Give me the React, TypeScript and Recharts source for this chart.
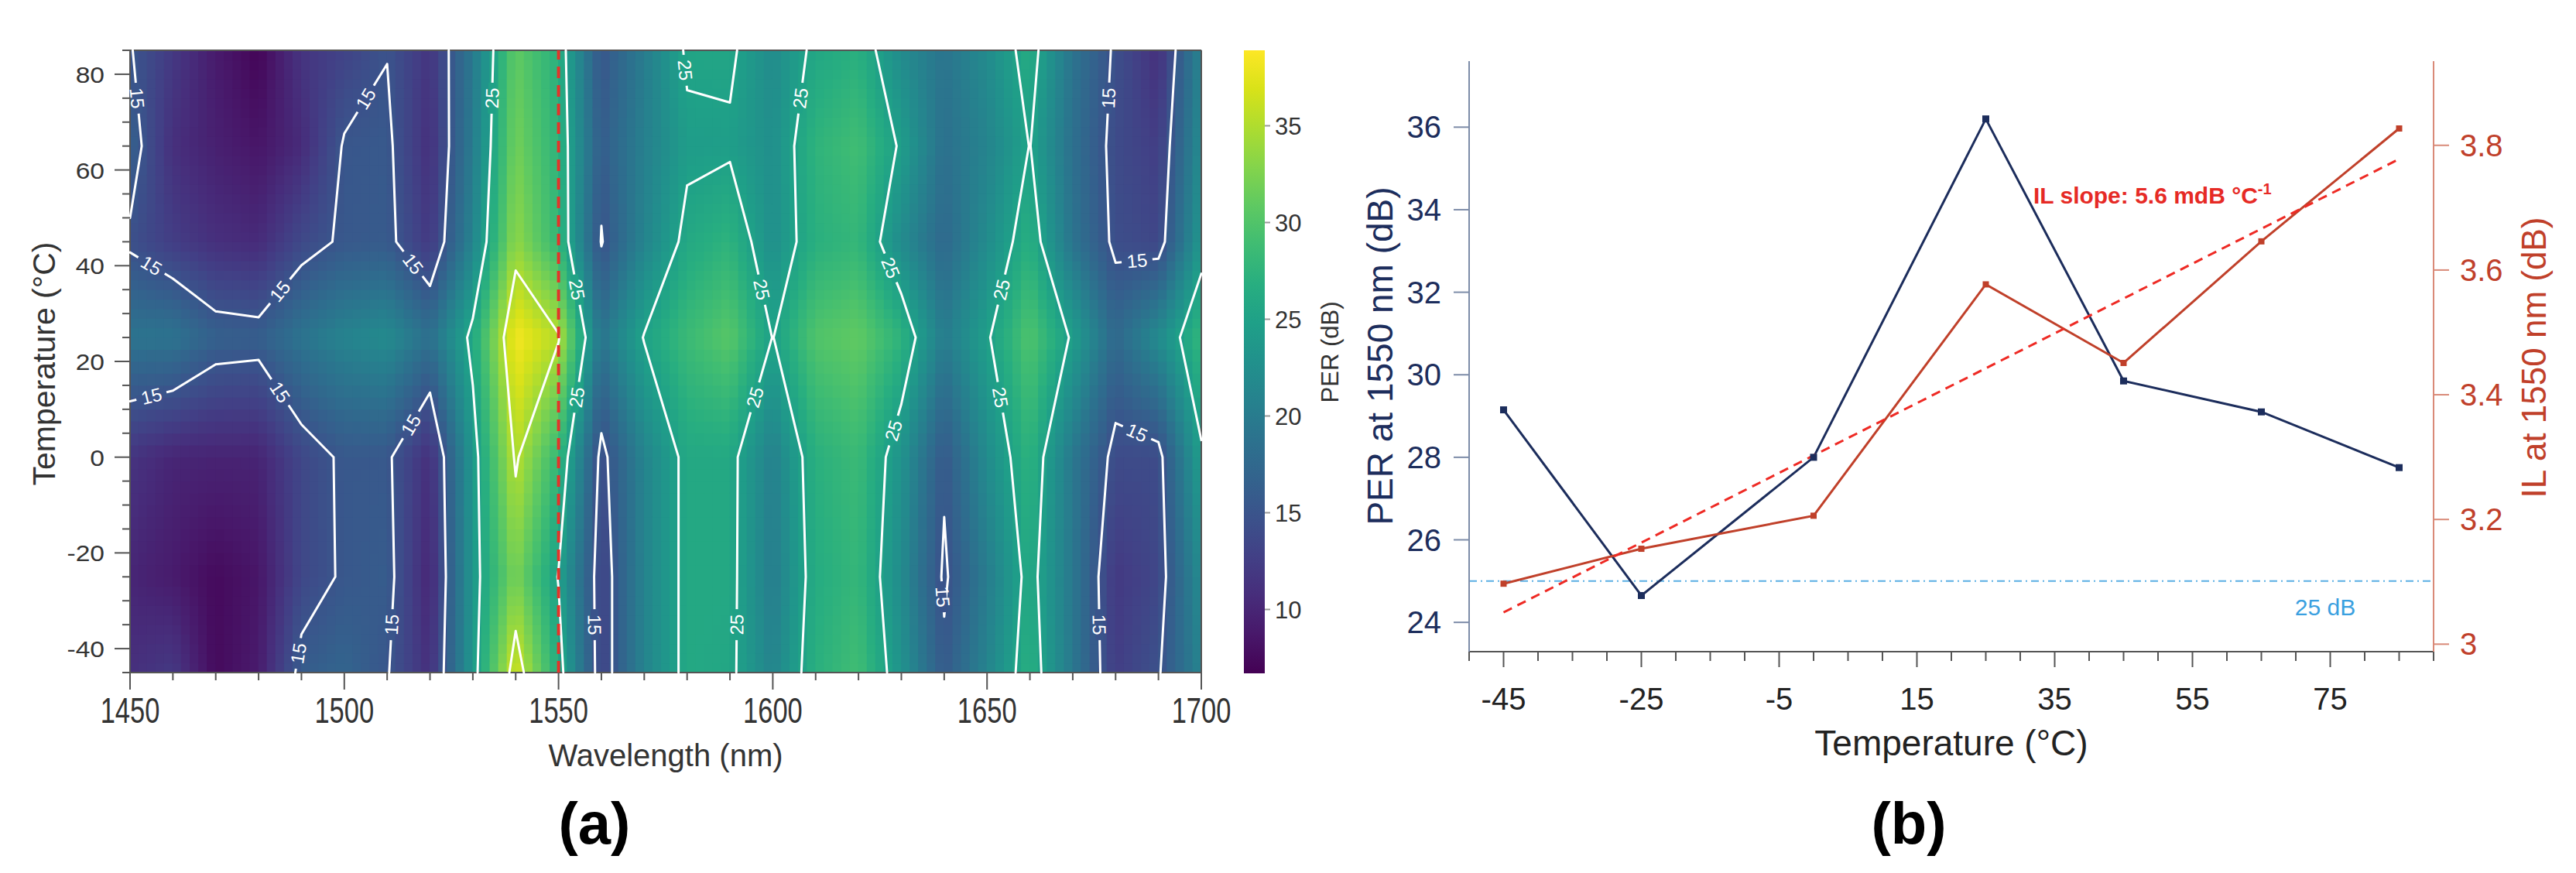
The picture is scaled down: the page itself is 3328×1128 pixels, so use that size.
import React from 'react';
import {
  ComposedChart,
  Scatter,
  Line,
  XAxis,
  YAxis,
  ReferenceLine,
  ReferenceArea,
} from 'recharts';

const FONT = '"Liberation Sans", Arial, sans-serif';

// ---------- (a) PER map: measured grid, one row per temperature ----------
const wavelengths = [1450, 1460, 1470, 1480, 1490, 1500, 1510, 1520, 1530, 1540, 1550, 1560, 1570, 1580, 1590, 1600, 1610, 1620, 1630, 1640, 1650, 1660, 1670, 1680, 1690, 1700];
const perT85 = [15.2, 12, 9, 7, 11.5, 13, 14.9, 11.5, 19.5, 31, 27, 15.2, 20, 25.5, 25.6, 22, 25.8, 27, 22, 19, 22, 26.5, 19, 14.5, 11, 21];
const perT65 = [16.5, 11, 9.5, 8.5, 10.5, 15.3, 15.6, 11, 20, 32, 27.5, 16, 20.5, 24.3, 24.5, 22.5, 27.5, 29, 24.5, 18.5, 21, 25.1, 18.5, 14, 12.5, 22];
const perT45 = [14.5, 12.5, 11, 10.5, 13.7, 15.5, 15.8, 12, 21, 33.5, 28, 14.8, 21, 26, 27.5, 22.5, 27, 28, 22, 17.5, 22, 27, 19, 14.3, 13.5, 23.5];
const perT25 = [19, 19, 16.5, 16.2, 19, 21, 22, 18.5, 26, 38.5, 35.3, 19, 25.2, 28.5, 30.5, 24.9, 30, 31, 27.5, 20, 24.6, 30, 24.5, 17.5, 22, 28];
const perT0 = [11.5, 10, 9.8, 9.8, 13.5, 15.5, 15.5, 10.9, 23.5, 35.5, 28, 14, 21, 26, 26, 20.5, 27, 28.5, 23, 15.5, 22, 27.5, 19.5, 14, 14, 24.5];
const perTm25 = [10, 9, 7.5, 8.5, 13.5, 15.4, 16, 10, 23.5, 32.4, 24.8, 13, 21, 26, 26, 20, 26.5, 28, 22, 14.5, 20, 26.2, 19.5, 12, 13.5, 22];
const perTm45 = [11, 12, 7.5, 9, 16, 17, 15.2, 11, 23.5, 37, 26.5, 13, 21, 26, 25.7, 21, 27, 29, 23, 15.7, 21, 27, 19.5, 12.5, 14.7, 21];
const mapTemps = [-45, -25, 0, 25, 45, 65, 85];
const mapRows = [perTm45, perTm25, perT0, perT25, perT45, perT65, perT85];
const contourLevels = [15, 25, 35];
const markerWavelength = 1550;

const waveTicks = [1450, 1460, 1470, 1480, 1490, 1500, 1510, 1520, 1530, 1540, 1550, 1560, 1570, 1580, 1590, 1600, 1610, 1620, 1630, 1640, 1650, 1660, 1670, 1680, 1690, 1700];
const waveLabels = [1450, 1500, 1550, 1600, 1650, 1700];
const mapTempTicks = [-45, -40, -35, -30, -25, -20, -15, -10, -5, 0, 5, 10, 15, 20, 25, 30, 35, 40, 45, 50, 55, 60, 65, 70, 75, 80, 85];
const mapTempLabels = [-40, -20, 0, 20, 40, 60, 80];
const colorbarTicks = [10, 15, 20, 25, 30, 35];
const COLOR_MIN = 6.7;
const COLOR_MAX = 38.9;

// ---------- (b) PER and IL at 1550 nm ----------
const temps = [-45, -25, 0, 25, 45, 65, 85];
const perAt1550 = [29.15, 24.65, 28.0, 36.2, 29.85, 29.1, 27.75];
const ilAt1550 = [3.097, 3.153, 3.206, 3.577, 3.451, 3.646, 3.827];
const fitTemps = [-45, 85];
const fitIL = [3.051, 3.778];
const perThreshold = 25;
const tempTicksB = [-50, -45, -40, -35, -30, -25, -20, -15, -10, -5, 0, 5, 10, 15, 20, 25, 30, 35, 40, 45, 50, 55, 60, 65, 70, 75, 80, 85, 90];
const tempLabelsB = [-45, -25, -5, 15, 35, 55, 75];
const perTicks = [24, 26, 28, 30, 32, 34, 36];
const ilTicks = [3, 3.2, 3.4, 3.6, 3.8];

// ---------- layout ----------
const A = { w: 1600, h: 1128, left: 168, right: 1552, top: 65, bottom: 869 };
const PX_PER_NM = (A.right - A.left) / (1700 - 1450);
const PX_PER_C = (A.bottom - A.top) / (85 - -45);
const B = { x: 1740, w: 1588, h: 1128, left: 158, right: 1404, top: 79, bottom: 842 };

const VIRIDIS = ['#440154', '#48186a', '#472d7b', '#424086', '#3b528b', '#33638d', '#2c728e', '#26828e', '#21918c', '#1fa088', '#28ae80', '#3fbc73', '#5ec962', '#84d44b', '#addc30', '#d8e219', '#fde725'];
const hex = (h: string) => [1, 3, 5].map((i) => parseInt(h.slice(i, i + 2), 16));
function viridis(v: number) {
  const t = Math.min(1, Math.max(0, (v - COLOR_MIN) / (COLOR_MAX - COLOR_MIN)));
  const p = t * (VIRIDIS.length - 1);
  const i = Math.min(VIRIDIS.length - 2, Math.floor(p));
  const f = p - i;
  const a = hex(VIRIDIS[i]);
  const b = hex(VIRIDIS[i + 1]);
  const c = a.map((x, k) => Math.round(x + (b[k] - x) * f));
  return `rgb(${c[0]},${c[1]},${c[2]})`;
}

// shading between measured grid points
const SUB_X = 5;
const SUB_Y = 10;
const heatCells: any[] = [];
for (let r = 0; r < mapTemps.length - 1; r++) {
  for (let c = 0; c < wavelengths.length - 1; c++) {
    const w0 = wavelengths[c], w1 = wavelengths[c + 1];
    const t0 = mapTemps[r], t1 = mapTemps[r + 1];
    const v00 = mapRows[r][c], v10 = mapRows[r][c + 1];
    const v01 = mapRows[r + 1][c], v11 = mapRows[r + 1][c + 1];
    for (let i = 0; i < SUB_X; i++) {
      for (let j = 0; j < SUB_Y; j++) {
        const u = (i + 0.5) / SUB_X;
        const v = (j + 0.5) / SUB_Y;
        const val = v00 * (1 - u) * (1 - v) + v10 * u * (1 - v) + v01 * (1 - u) * v + v11 * u * v;
        heatCells.push({
          x: w0 + (w1 - w0) * u,
          y: t0 + (t1 - t0) * v,
          hw: (w1 - w0) / SUB_X,
          hh: (t1 - t0) / SUB_Y,
          color: viridis(val),
        });
      }
    }
  }
}

function valueAt(w: number, t: number) {
  let c = wavelengths.findIndex((x, k) => k < wavelengths.length - 1 && w <= wavelengths[k + 1]);
  let r = mapTemps.findIndex((x, k) => k < mapTemps.length - 1 && t <= mapTemps[k + 1]);
  if (c < 0) c = wavelengths.length - 2;
  if (r < 0) r = mapTemps.length - 2;
  const u = (w - wavelengths[c]) / (wavelengths[c + 1] - wavelengths[c]);
  const v = (t - mapTemps[r]) / (mapTemps[r + 1] - mapTemps[r]);
  return mapRows[r][c] * (1 - u) * (1 - v) + mapRows[r][c + 1] * u * (1 - v) + mapRows[r + 1][c] * (1 - u) * v + mapRows[r + 1][c + 1] * u * v;
}

// marching squares on the measured grid
function traceLevel(level: number) {
  const segs: any[] = [];
  for (let r = 0; r < mapTemps.length - 1; r++) {
    for (let c = 0; c < wavelengths.length - 1; c++) {
      const P = [
        [wavelengths[c], mapTemps[r], mapRows[r][c]],
        [wavelengths[c + 1], mapTemps[r], mapRows[r][c + 1]],
        [wavelengths[c + 1], mapTemps[r + 1], mapRows[r + 1][c + 1]],
        [wavelengths[c], mapTemps[r + 1], mapRows[r + 1][c]],
      ];
      const hits: any[] = [];
      for (let e = 0; e < 4; e++) {
        const a = P[e], b = P[(e + 1) % 4];
        if ((a[2] >= level) !== (b[2] >= level)) {
          const f = (level - a[2]) / (b[2] - a[2]);
          hits[e] = [a[0] + (b[0] - a[0]) * f, a[1] + (b[1] - a[1]) * f];
        }
      }
      const idx = [0, 1, 2, 3].filter((e) => hits[e]);
      if (idx.length === 2) segs.push({ a: hits[idx[0]], b: hits[idx[1]], row: r });
      if (idx.length === 4) {
        const center = (P[0][2] + P[1][2] + P[2][2] + P[3][2]) / 4;
        if ((center >= level) === (P[0][2] >= level)) {
          segs.push({ a: hits[0], b: hits[1], row: r });
          segs.push({ a: hits[2], b: hits[3], row: r });
        } else {
          segs.push({ a: hits[3], b: hits[0], row: r });
          segs.push({ a: hits[1], b: hits[2], row: r });
        }
      }
    }
  }
  return segs;
}

const contourSegs = contourLevels.map((l) => traceLevel(l));
const contourData = contourSegs.map((segs) =>
  segs.flatMap((s: any) => [
    { x: s.a[0], y: s.a[1] },
    { x: s.b[0], y: s.b[1] },
    { x: s.b[0], y: null },
  ])
);

const labelRows = [5, 0, 2, 3];
const contourLabels: any[] = [];
labelRows.forEach((row) => {
  contourLevels.forEach((lvl, k) => {
    contourSegs[k].forEach((s: any) => {
      if (s.row !== row) return;
      const sx = (s.b[0] - s.a[0]) * PX_PER_NM;
      const sy = -(s.b[1] - s.a[1]) * PX_PER_C;
      if (Math.hypot(sx, sy) < 50) return;
      const mx = (s.a[0] + s.b[0]) / 2;
      const my = (s.a[1] + s.b[1]) / 2;
      const px = mx * PX_PER_NM;
      const py = -my * PX_PER_C;
      if (contourLabels.some((l) => Math.hypot(l.px - px, l.py - py) < 125)) return;
      let ang = (Math.atan2(sy, sx) * 180) / Math.PI;
      if (ang > 90) ang -= 180;
      if (ang <= -90) ang += 180;
      contourLabels.push({ x: mx, y: my, px, py, angle: ang, text: String(lvl), bg: viridis(valueAt(mx, my)) });
    });
  });
});

const panelBData = temps.map((t, i) => ({ t, per: perAt1550[i], il: ilAt1550[i] }));
const fitData = fitTemps.map((t, i) => ({ t, fit: fitIL[i] }));
const colorbarData = [{ x: 0, v: COLOR_MIN }, { x: 1, v: COLOR_MAX }];

// ---------- shapes & ticks ----------
const HeatRect = (p: any) => {
  const w = p.payload.hw * PX_PER_NM + 0.9;
  const h = p.payload.hh * PX_PER_C + 0.9;
  return <rect x={p.cx - w / 2} y={p.cy - h / 2} width={w} height={h} fill={p.payload.color} />;
};

const ContourLabel = (p: any) => {
  const d = p.payload;
  return (
    <g transform={`translate(${p.cx},${p.cy}) rotate(${d.angle})`}>
      <rect x={-20} y={-5} width={40} height={10} fill={d.bg} />
      <text x={0} y={8.5} textAnchor="middle" fontSize={24} fill="#fff" fontFamily={FONT}>
        {d.text}
      </text>
    </g>
  );
};

const AxisA = '#555';

const BottomTickA = ({ x, y, payload }: any) => {
  const major = waveLabels.includes(payload.value);
  return (
    <g>
      <line x1={x} y1={y} x2={x} y2={y + (major ? 22 : 10)} stroke={AxisA} strokeWidth={2} />
      {major && (
        <text transform={`translate(${x},${y + 65}) scale(0.75,1)`} textAnchor="middle" fontSize={46} fill="#333" fontFamily={FONT}>
          {payload.value}
        </text>
      )}
    </g>
  );
};

const TopTickA = ({ x, y, payload }: any) => {
  const major = waveLabels.includes(payload.value);
  return <line x1={x} y1={y} x2={x} y2={y - (major ? 22 : 12)} stroke={AxisA} strokeWidth={2} />;
};

const LeftTickA = ({ x, y, payload }: any) => {
  const major = mapTempLabels.includes(payload.value);
  return (
    <g>
      <line x1={x - (major ? 20 : 10)} y1={y} x2={x} y2={y} stroke={AxisA} strokeWidth={2} />
      {major && (
        <text transform={`translate(${x - 33},${y + 11}) scale(1.12,1)`} textAnchor="end" fontSize={30} fill="#333" fontFamily={FONT}>
          {payload.value}
        </text>
      )}
    </g>
  );
};

const RightTickA = ({ x, y, payload }: any) => {
  const major = mapTempLabels.includes(payload.value);
  return <line x1={x} y1={y} x2={x + (major ? 20 : 12)} y2={y} stroke={AxisA} strokeWidth={2} />;
};

const ColorbarTick = ({ x, y, payload }: any) => (
  <g>
    <line x1={x} y1={y} x2={x + 7} y2={y} stroke="#999" strokeWidth={2} />
    <text x={x + 13} y={y + 11} fontSize={31} fill="#333" fontFamily={FONT}>
      {payload.value}
    </text>
  </g>
);

const NAVY = '#1c2d5c';
const BRICK = '#c0402a';

const BottomTickB = ({ x, y, payload }: any) => {
  const major = tempLabelsB.includes(payload.value);
  return (
    <g>
      <line x1={x} y1={y} x2={x} y2={y + (major ? 20 : 12)} stroke="#555" strokeWidth={2} />
      {major && (
        <text x={x} y={y + 75} textAnchor="middle" fontSize={40} fill="#222" fontFamily={FONT}>
          {payload.value}
        </text>
      )}
    </g>
  );
};

const LeftTickB = ({ x, y, payload }: any) => (
  <g>
    <line x1={x - 20} y1={y} x2={x} y2={y} stroke="#7d8ca8" strokeWidth={2} />
    <text x={x - 36} y={y + 14} textAnchor="end" fontSize={40} fill={NAVY} fontFamily={FONT}>
      {payload.value}
    </text>
  </g>
);

const RightTickB = ({ x, y, payload }: any) => (
  <g>
    <line x1={x} y1={y} x2={x + 20} y2={y} stroke="#d98a78" strokeWidth={2} />
    <text x={x + 34} y={y + 14} fontSize={40} fill={BRICK} fontFamily={FONT}>
      {payload.value === 3 ? '3' : payload.value.toFixed(1)}
    </text>
  </g>
);

const squareDot = (color: string, size: number) => (p: any) =>
  p.cx == null ? <g key={p.index} /> : <rect key={p.index} x={p.cx - size / 2} y={p.cy - size / 2} width={size} height={size} fill={color} />;

export default function App() {
  return (
    <div style={{ position: 'absolute', left: 0, top: 0, width: 3328, height: 1128, background: '#fff', overflow: 'hidden' }}>
      {/* (a) contour map */}
      <div style={{ position: 'absolute', left: 0, top: 0 }}>
        <ComposedChart
          width={A.w}
          height={A.h}
          margin={{ top: A.top - 30, right: A.w - A.right - 30, bottom: A.h - A.bottom - 80, left: A.left - 60 }}
        >
          <XAxis xAxisId={0} type="number" dataKey="x" domain={[1450, 1700]} ticks={waveTicks} interval={0} height={80}
            axisLine={{ stroke: AxisA, strokeWidth: 2 }} tickLine={false} tickSize={0} tickMargin={0} tick={BottomTickA} />
          <XAxis xAxisId="top" orientation="top" type="number" domain={[1450, 1700]} ticks={waveTicks} interval={0} height={30}
            axisLine={{ stroke: AxisA, strokeWidth: 2 }} tickLine={false} tickSize={0} tickMargin={0} tick={TopTickA} />
          <YAxis yAxisId={0} type="number" dataKey="y" domain={[-45, 85]} ticks={mapTempTicks} interval={0} width={60}
            axisLine={{ stroke: AxisA, strokeWidth: 2 }} tickLine={false} tickSize={0} tickMargin={0} tick={LeftTickA} />
          <YAxis yAxisId="right" orientation="right" type="number" domain={[-45, 85]} ticks={mapTempTicks} interval={0} width={30}
            axisLine={{ stroke: AxisA, strokeWidth: 2 }} tickLine={false} tickSize={0} tickMargin={0} tick={RightTickA} />

          <Scatter data={heatCells} shape={HeatRect} isAnimationActive={false} zIndex={100} />
          {contourData.map((d, k) => (
            <Line key={k} data={d} dataKey="y" stroke="#fff" strokeWidth={3} strokeLinecap="round" dot={false}
              activeDot={false} connectNulls={false} isAnimationActive={false} zIndex={500} />
          ))}
          <Scatter data={contourLabels} shape={ContourLabel} isAnimationActive={false} zIndex={600} />
          <ReferenceLine x={markerWavelength} stroke="#e3342a" strokeWidth={4} strokeDasharray="15 9" zIndex={700} />
        </ComposedChart>
      </div>

      {/* colour bar */}
      <div style={{ position: 'absolute', left: 1560, top: 0 }}>
        <ComposedChart width={220} height={1128} data={colorbarData} margin={{ top: 65, right: 46, bottom: 258, left: 47 }}>
          <defs>
            <linearGradient id="viridisBar" x1="0" y1="1" x2="0" y2="0">
              {VIRIDIS.map((c, i) => (
                <stop key={i} offset={`${(i / (VIRIDIS.length - 1)) * 100}%`} stopColor={c} />
              ))}
            </linearGradient>
          </defs>
          <XAxis type="number" dataKey="x" domain={[0, 1]} hide />
          <YAxis yAxisId="cb" orientation="right" type="number" domain={[COLOR_MIN, COLOR_MAX]} ticks={colorbarTicks} interval={0}
            width={100} axisLine={false} tickLine={false} tickSize={0} tickMargin={0} tick={ColorbarTick} allowDataOverflow />
          <ReferenceArea yAxisId="cb" x1={0} x2={1} y1={COLOR_MIN} y2={COLOR_MAX} fill="url(#viridisBar)" fillOpacity={1} stroke="none" />
          <Line yAxisId="cb" dataKey="v" stroke="none" dot={false} activeDot={false} isAnimationActive={false} />
        </ComposedChart>
      </div>

      {/* (b) PER and IL vs temperature */}
      <div style={{ position: 'absolute', left: B.x, top: 0 }}>
        <ComposedChart
          width={B.w}
          height={B.h}
          data={panelBData}
          margin={{ top: B.top, right: B.w - B.right - 100, bottom: B.h - B.bottom - 60, left: B.left - 100 }}
        >
          <XAxis type="number" dataKey="t" domain={[-50, 90]} ticks={tempTicksB} interval={0} height={60}
            axisLine={{ stroke: '#555', strokeWidth: 2 }} tickLine={false} tickSize={0} tickMargin={0} tick={BottomTickB} />
          <YAxis yAxisId="per" type="number" domain={[23.29, 37.6]} ticks={perTicks} interval={0} width={100}
            axisLine={{ stroke: '#7d8ca8', strokeWidth: 2 }} tickLine={false} tickSize={0} tickMargin={0} tick={LeftTickB} />
          <YAxis yAxisId="il" orientation="right" type="number" domain={[2.988, 3.935]} ticks={ilTicks} interval={0} width={100}
            axisLine={{ stroke: '#d98a78', strokeWidth: 2 }} tickLine={false} tickSize={0} tickMargin={0} tick={RightTickB} />

          <ReferenceLine yAxisId="per" y={perThreshold} stroke="#5aaee3" strokeWidth={2} strokeDasharray="10 5 2 5" />
          <Line yAxisId="per" dataKey="per" stroke={NAVY} strokeWidth={3} dot={squareDot(NAVY, 9)} activeDot={false} isAnimationActive={false} />
          <Line yAxisId="il" dataKey="il" stroke={BRICK} strokeWidth={3} dot={squareDot(BRICK, 8)} activeDot={false} isAnimationActive={false} />
          <Line yAxisId="il" data={fitData} dataKey="fit" stroke="#ee2a24" strokeWidth={3} strokeDasharray="12 8" dot={false} activeDot={false} isAnimationActive={false} />
        </ComposedChart>
      </div>

      {/* titles and annotations */}
      <svg width={3328} height={1128} style={{ position: 'absolute', left: 0, top: 0, pointerEvents: 'none' }} fontFamily={FONT}>
        <text transform="translate(57,470) rotate(-90)" textAnchor="middle" dominantBaseline="central" fontSize={41} fill="#333">Temperature (°C)</text>
        <text x={860} y={990} textAnchor="middle" fontSize={40} fill="#333">Wavelength (nm)</text>
        <text x={768} y={1090} textAnchor="middle" fontSize={76} fontWeight="bold" fill="#000">(a)</text>
        <text transform="translate(1718,455) rotate(-90)" textAnchor="middle" dominantBaseline="central" fontSize={31} fill="#333">PER (dB)</text>

        <text transform="translate(1783,460) rotate(-90)" textAnchor="middle" dominantBaseline="central" fontSize={46} fill={NAVY}>PER at 1550 nm (dB)</text>
        <text transform="translate(3273,462) rotate(-90)" textAnchor="middle" dominantBaseline="central" fontSize={44} fill={BRICK}>IL at 1550 nm (dB)</text>
        <text x={2521} y={976} textAnchor="middle" fontSize={46} fill="#222">Temperature (°C)</text>
        <text x={2466} y={1090} textAnchor="middle" fontSize={76} fontWeight="bold" fill="#000">(b)</text>
        <text x={2627} y={263} fontSize={30} fontWeight="bold" fill="#e62a25">
          IL slope: 5.6 mdB °C<tspan dy={-12} fontSize={20}>-1</tspan>
        </text>
        <text x={3004} y={795} textAnchor="middle" fontSize={30} fill="#3aa0e0">25 dB</text>
      </svg>
    </div>
  );
}
